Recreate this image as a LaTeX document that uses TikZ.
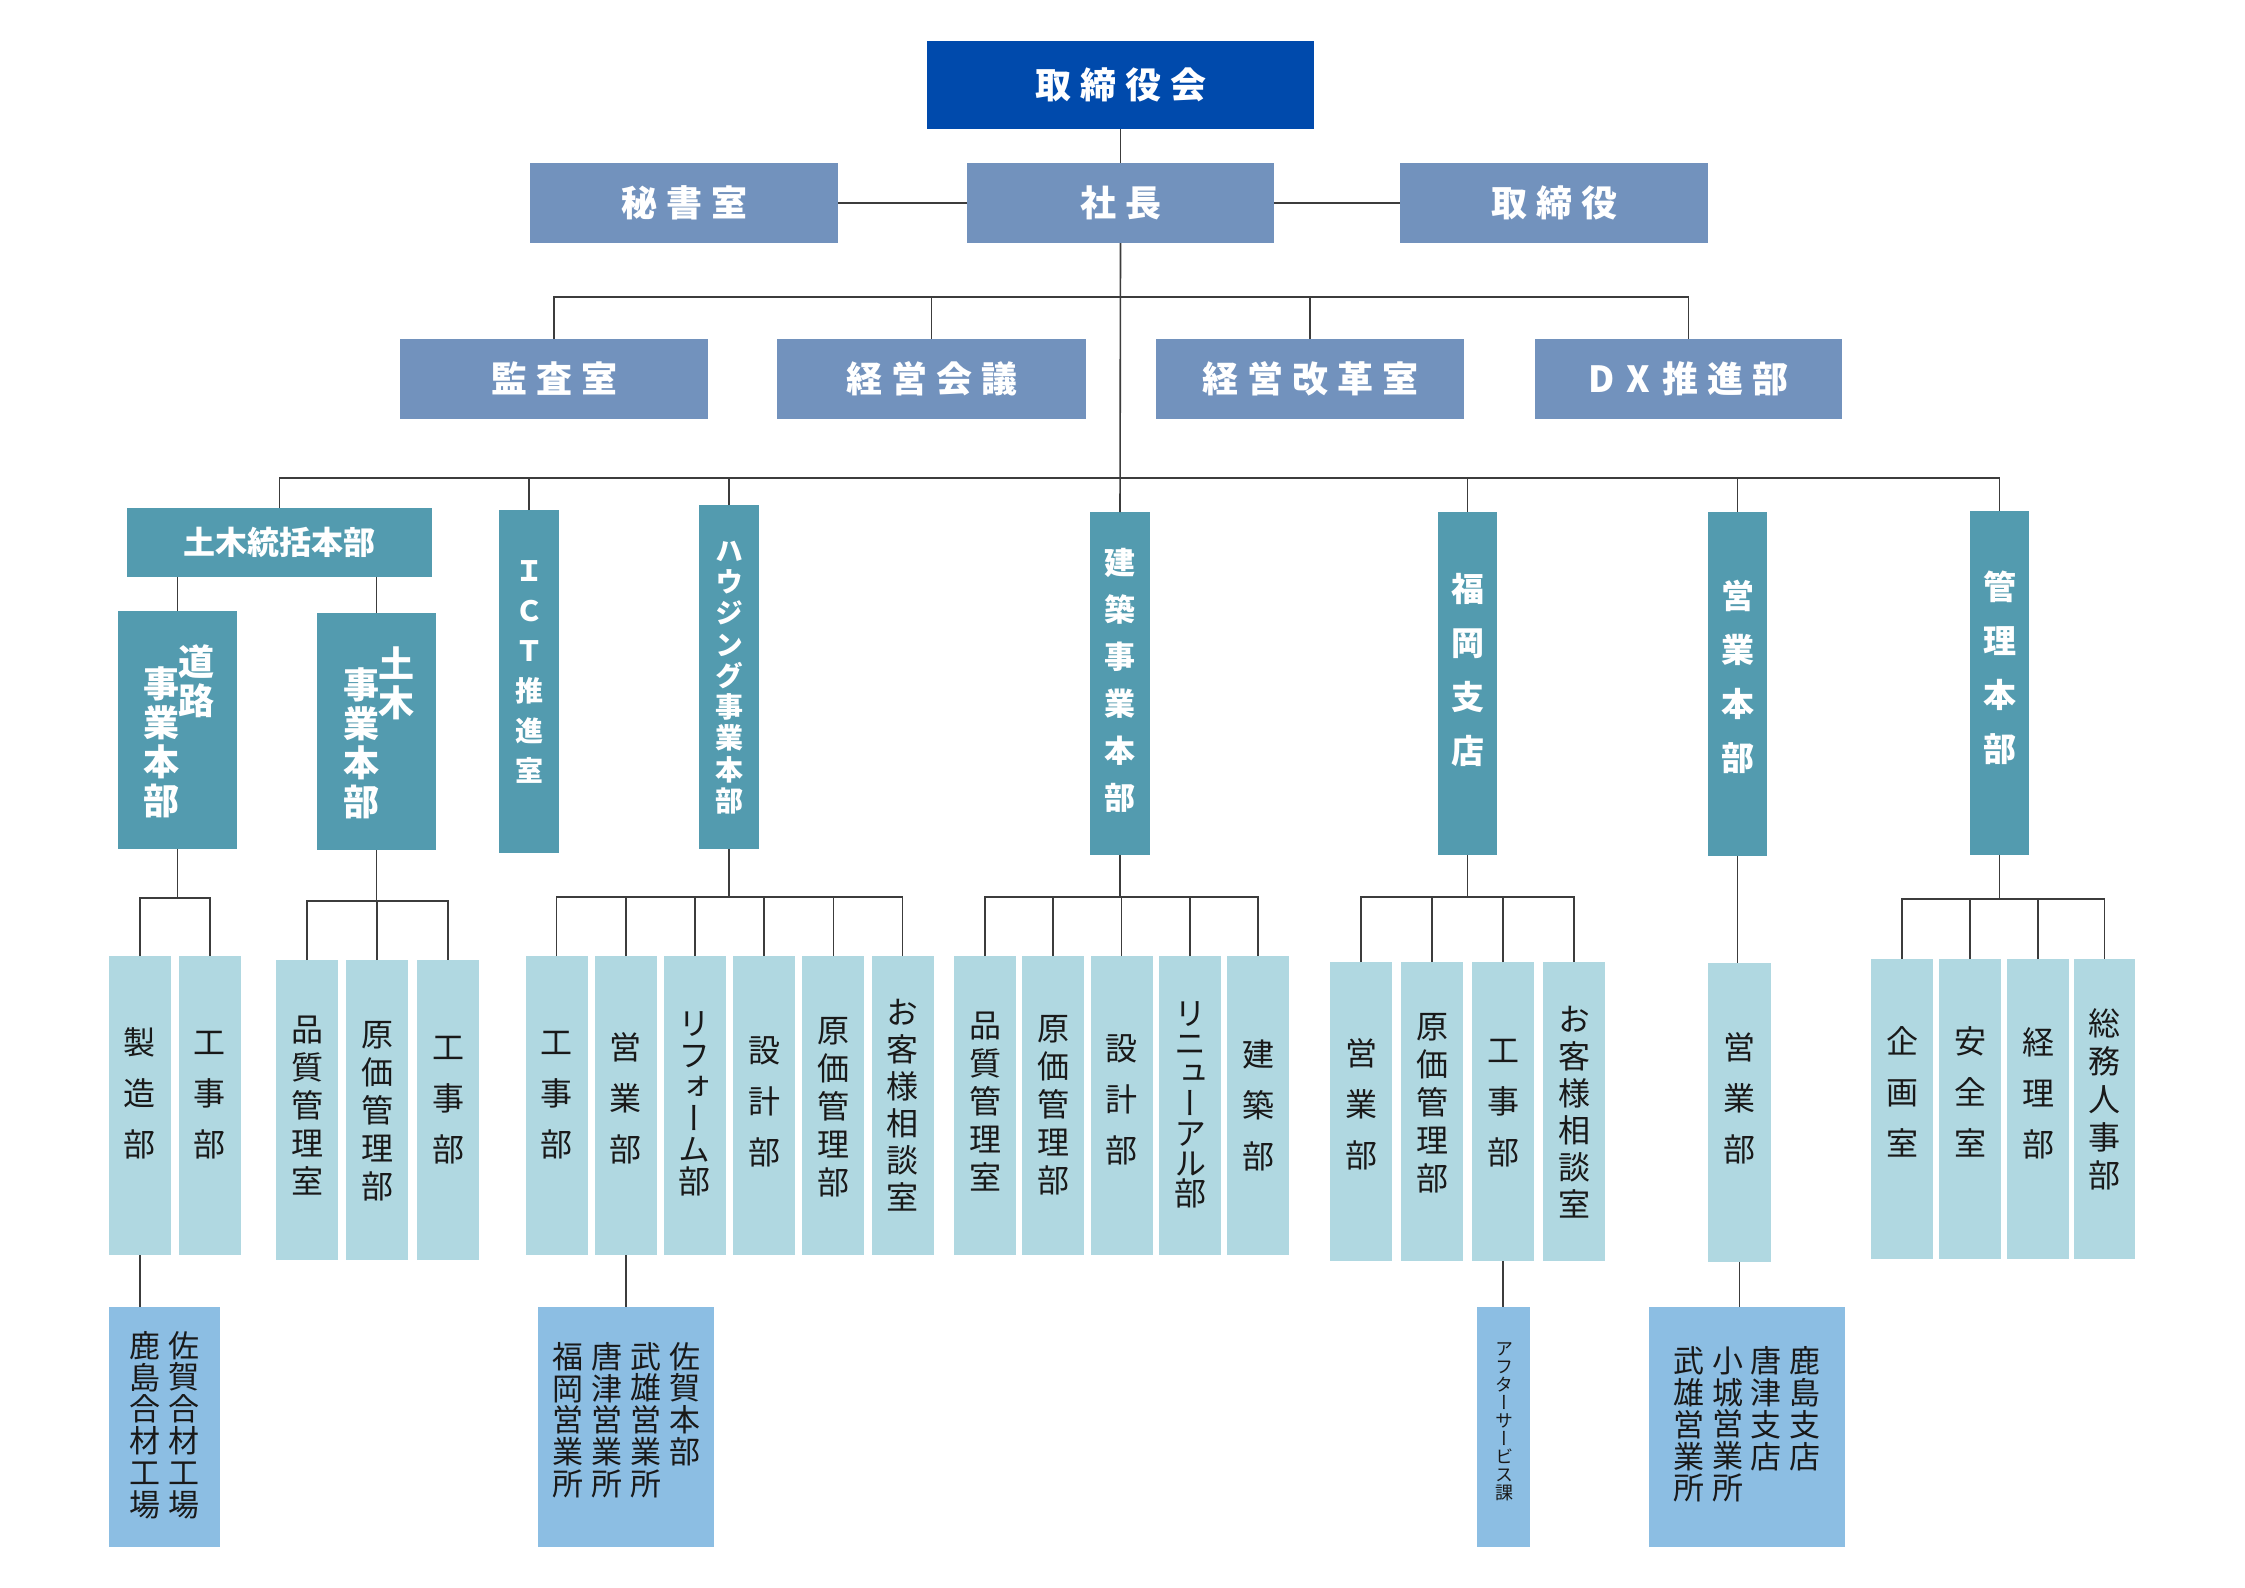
\documentclass[tikz,border=0pt]{standalone}
\usepackage{fontspec}
\setmainfont{Noto Sans CJK JP}
\newfontfamily\jpv[RawFeature=+vert]{Noto Sans CJK JP}
\newcommand\vfnt[2]{\jpv\fontsize{#1}{#2}\selectfont\lineskiplimit=-100pt\relax}
\definecolor{navy}{HTML}{004AAC}
\definecolor{slate}{HTML}{7292BD}
\definecolor{teal2}{HTML}{539BAF}
\definecolor{pale}{HTML}{B0D8E1}
\definecolor{sky}{HTML}{8CBEE3}
\definecolor{lin}{HTML}{3C3C3C}
\tikzset{
  bx/.style={inner sep=0pt,outer sep=0pt,draw=none},
  hd/.style={bx,fill=slate,minimum height=80pt,text=white,font=\bfseries\fontsize{36}{40}\selectfont},
  tl/.style={bx,fill=teal2,minimum height=343pt},
  pl/.style={bx,fill=pale,minimum width=62pt,minimum height=299pt},
  sk/.style={bx,fill=sky,minimum height=239.5pt},
  vw/.style={text=white,align=center,inner sep=0pt},
  vb/.style={text=black!90,align=center,inner sep=0pt},
  vthree/.style={vb,font=\vfnt{32}{51}},
  vfive/.style={vb,font=\vfnt{32}{38}},
  vsix/.style={vb,font=\vfnt{32}{37}},
  vsixr/.style={vb,font=\vfnt{32}{31.5}},
  vseven/.style={vb,font=\vfnt{32}{30}},
  vcol/.style={vb,anchor=north,font=\vfnt{31}{31.8}},
  conn/.style={draw=lin,line width=1.6pt}
}
\begin{document}
\begin{tikzpicture}[x=1pt,y=-1pt]
\fill[white] (0,0) rectangle (2245,1587);
\path[use as bounding box] (0,0) rectangle (2245,1587);

% level 0-2
\node[bx,fill=navy,minimum width=387pt,minimum height=88pt,text=white,font=\bfseries\fontsize{36}{40}\selectfont] (tb) at (1120.5,85) {取\kern9pt 締\kern9pt 役\kern9pt 会};
\node[hd,minimum width=308pt] (hisho) at (684,203) {秘\kern9pt 書\kern9pt 室};
\node[hd,minimum width=307pt] (sh) at (1120.5,203) {社\kern9pt 長};
\node[hd,minimum width=308pt] (tori) at (1554,203) {取\kern9pt 締\kern9pt 役};
\node[hd,minimum width=308pt] (kansa) at (554,379) {監\kern9pt 査\kern9pt 室};
\node[hd,minimum width=309pt] (keiei) at (931.5,379) {経\kern9pt 営\kern9pt 会\kern9pt 議};
\node[hd,minimum width=308pt] (kaikaku) at (1310,379) {経\kern9pt 営\kern9pt 改\kern9pt 革\kern9pt 室};
\node[hd,minimum width=307pt] (dx) at (1688.5,379) {D\kern12pt X\kern12pt 推\kern9pt 進\kern9pt 部};

% level 3
\node[bx,fill=teal2,minimum width=305pt,minimum height=69pt,text=white,font=\bfseries\fontsize{32}{36}\selectfont] (dtk) at (279.5,542.5) {土木統括本部};
\node[tl,minimum width=60pt] (ict) at (529,681.5) {};
\node[tl,minimum width=60pt,minimum height=344pt] (hsg) at (729,677) {};
\node[tl,minimum width=60pt] (knc) at (1120,683.5) {};
\node[tl,minimum width=59pt] (fko) at (1467.5,683.5) {};
\node[tl,minimum width=59pt,minimum height=344pt] (eig) at (1737.5,684) {};
\node[tl,minimum width=59pt,minimum height=344pt] (knr) at (1999.5,683) {};
\node[vw,font=\bfseries\vfnt{28}{40}] (ictt) at (529,671.7) {Ｉ\\Ｃ\\Ｔ\\推\\進\\室};
\node[vw,font=\bfseries\vfnt{28}{31.3}] (hsgt) at (729.5,677.5) {ハ\\ウ\\ジ\\ン\\グ\\事\\業\\本\\部};
\node[vw,font=\bfseries\vfnt{31}{47}] (knct) at (1120,680) {建\\築\\事\\業\\本\\部};
\node[vw,font=\bfseries\vfnt{33}{54}] (fkot) at (1468,669.5) {福\\岡\\支\\店};
\node[vw,font=\bfseries\vfnt{33}{54}] (eigt) at (1738,676.5) {営\\業\\本\\部};
\node[vw,font=\bfseries\vfnt{33}{54}] (knrt) at (2000,667.5) {管\\理\\本\\部};

% level 4
\node[bx,fill=teal2,minimum width=119pt,minimum height=238pt] (drj) at (177.5,730) {};
\node[bx,fill=teal2,minimum width=119pt,minimum height=237pt] (dbj) at (376.5,731.5) {};
\node[vw,font=\bfseries\vfnt{36}{39}] (drja) at (196.7,681) {道\\路};
\node[vw,font=\bfseries\vfnt{36}{39}] (drjb) at (161.7,742.5) {事\\業\\本\\部};
\node[vw,font=\bfseries\vfnt{36}{39}] (dbja) at (396.7,683) {土\\木};
\node[vw,font=\bfseries\vfnt{36}{39}] (dbjb) at (361.7,743) {事\\業\\本\\部};

% level 5 boxes
\node[pl] (s1) at (139.7,1105.5) {};
\node[pl] (s2) at (209.8,1105.5) {};
\node[pl,minimum height=299.5pt] (s3) at (307,1109.75) {};
\node[pl,minimum height=299.5pt] (s4) at (377.25,1109.75) {};
\node[pl,minimum height=299.5pt] (s5) at (448,1109.75) {};
\node[pl] (s6) at (556.5,1105.5) {};
\node[pl] (s7) at (625.7,1105.5) {};
\node[pl] (s8) at (694.9,1105.5) {};
\node[pl] (s9) at (764.1,1105.5) {};
\node[pl] (s10) at (833.3,1105.5) {};
\node[pl] (s11) at (902.5,1105.5) {};
\node[pl] (s12) at (985,1105.5) {};
\node[pl] (s13) at (1053,1105.5) {};
\node[pl] (s14) at (1121.5,1105.5) {};
\node[pl] (s15) at (1190,1105.5) {};
\node[pl] (s16) at (1258,1105.5) {};
\node[pl] (s17) at (1361,1111.5) {};
\node[pl] (s18) at (1432,1111.5) {};
\node[pl] (s19) at (1503,1111.5) {};
\node[pl] (s20) at (1574,1111.5) {};
\node[pl,minimum width=63pt] (s21) at (1739.5,1112.5) {};
\node[pl,minimum height=300pt] (s22) at (1902,1109) {};
\node[pl,minimum height=300pt] (s23) at (1970,1109) {};
\node[pl,minimum height=300pt] (s24) at (2038,1109) {};
\node[pl,minimum height=300pt,minimum width=61pt] (s25) at (2104.5,1109) {};

% level 5 texts
\node[vthree] (t1) at (139.7,1093) {製\\造\\部};
\node[vthree] (t2) at (209.8,1095) {工\\事\\部};
\node[vfive] (t3) at (307,1105.5) {品\\質\\管\\理\\室};
\node[vfive] (t4) at (377.25,1111.5) {原\\価\\管\\理\\部};
\node[vthree] (t5) at (448,1100) {工\\事\\部};
\node[vthree] (t6) at (556.5,1095) {工\\事\\部};
\node[vthree] (t7) at (625.7,1098) {営\\業\\部};
\node[vsixr] (t8) at (694.9,1104) {リ\\フ\\ォ\\ー\\ム\\部};
\node[vthree] (t9) at (764.1,1102) {設\\計\\部};
\node[vfive] (t10) at (833.3,1107) {原\\価\\管\\理\\部};
\node[vsix] (t11) at (902.5,1105) {お\\客\\様\\相\\談\\室};
\node[vfive] (t12) at (985,1101.5) {品\\質\\管\\理\\室};
\node[vfive] (t13) at (1053,1105) {原\\価\\管\\理\\部};
\node[vthree] (t14) at (1121.5,1100) {設\\計\\部};
\node[vseven] (t15) at (1190,1105) {リ\\ニ\\ュ\\ー\\ア\\ル\\部};
\node[vthree] (t16) at (1258,1105) {建\\築\\部};
\node[vthree] (t17) at (1361,1104.5) {営\\業\\部};
\node[vfive] (t18) at (1432,1103) {原\\価\\管\\理\\部};
\node[vthree] (t19) at (1503,1103) {工\\事\\部};
\node[vsix] (t20) at (1574,1112) {お\\客\\様\\相\\談\\室};
\node[vthree] (t21) at (1739.5,1098.5) {営\\業\\部};
\node[vthree] (t22) at (1902,1092) {企\\画\\室};
\node[vthree] (t23) at (1970,1092) {安\\全\\室};
\node[vthree] (t24) at (2038,1093) {経\\理\\部};
\node[vfive] (t25) at (2104.5,1099.5) {総\\務\\人\\事\\部};

% level 6
\node[sk,minimum width=111pt] (b1) at (164.1,1426.75) {};
\node[sk,minimum width=176.6pt] (b2) at (626.1,1426.75) {};
\node[sk,minimum width=53pt] (b3) at (1503.5,1426.75) {};
\node[sk,minimum width=196pt] (b4) at (1747,1426.75) {};
\node[vcol] (c1) at (184,1331) {佐\\賀\\合\\材\\工\\場};
\node[vcol] (c2) at (144.5,1331) {鹿\\島\\合\\材\\工\\場};
\node[vcol] (c3) at (685,1342) {佐\\賀\\本\\部};
\node[vcol] (c4) at (646,1342) {武\\雄\\営\\業\\所};
\node[vcol] (c5) at (607,1342) {唐\\津\\営\\業\\所};
\node[vcol] (c6) at (568,1342) {福\\岡\\営\\業\\所};
\node[vb,anchor=north,font=\vfnt{18}{18}] (c7) at (1504,1342) {ア\\フ\\タ\\ー\\サ\\ー\\ビ\\ス\\課};
\node[vcol] (c8) at (1805,1346.5) {鹿\\島\\支\\店};
\node[vcol] (c9) at (1766,1346.5) {唐\\津\\支\\店};
\node[vcol] (c10) at (1728,1346.5) {小\\城\\営\\業\\所};
\node[vcol] (c11) at (1689,1346.5) {武\\雄\\営\\業\\所};

% connectors top
\draw[conn] (tb.south) -- (sh.north);
\draw[conn] (hisho.east) -- (sh.west);
\draw[conn] (sh.east) -- (tori.west);
\draw[conn] (sh.south) -- (knc.north);
\coordinate (j2) at (1120.5,297);
\draw[conn] (kansa.north) |- (j2) -| (dx.north);
\draw[conn] (keiei.north) -- (keiei.north |- j2);
\draw[conn] (kaikaku.north) -- (kaikaku.north |- j2);
\coordinate (j3) at (1120.5,478);
\draw[conn] (dtk.north) |- (j3) -| (knr.north);
\draw[conn] (ict.north) -- (ict.north |- j3);
\draw[conn] (hsg.north) -- (hsg.north |- j3);
\draw[conn] (fko.north) -- (fko.north |- j3);
\draw[conn] (eig.north) -- (eig.north |- j3);
\draw[conn] (drj.north) -- (drj.north |- dtk.south);
\draw[conn] (dbj.north) -- (dbj.north |- dtk.south);

% level 5 branches
\coordinate (bg1) at (177.5,898);
\draw[conn] (drj.south) -- (bg1);
\draw[conn] (s1.north) |- (bg1) -| (s2.north);
\coordinate (bg2) at (376.5,901);
\draw[conn] (dbj.south) -- (bg2);
\draw[conn] (s3.north) |- (bg2) -| (s5.north);
\draw[conn] (s4.north) -- (s4.north |- bg2);
\coordinate (bg3) at (729,897);
\draw[conn] (hsg.south) -- (bg3);
\draw[conn] (s6.north) |- (bg3) -| (s11.north);
\foreach \n in {s7,s8,s9,s10} \draw[conn] (\n.north) -- (\n.north |- bg3);
\coordinate (bg4) at (1120,897);
\draw[conn] (knc.south) -- (bg4);
\draw[conn] (s12.north) |- (bg4) -| (s16.north);
\foreach \n in {s13,s14,s15} \draw[conn] (\n.north) -- (\n.north |- bg4);
\coordinate (bg5) at (1467.5,897);
\draw[conn] (fko.south) -- (bg5);
\draw[conn] (s17.north) |- (bg5) -| (s20.north);
\foreach \n in {s18,s19} \draw[conn] (\n.north) -- (\n.north |- bg5);
\draw[conn] (eig.south) -- (eig.south |- s21.north);
\coordinate (bg7) at (1999.5,899);
\draw[conn] (knr.south) -- (bg7);
\draw[conn] (s22.north) |- (bg7) -| (s25.north);
\foreach \n in {s23,s24} \draw[conn] (\n.north) -- (\n.north |- bg7);

% level 6 connectors
\draw[conn] (s1.south) -- (s1.south |- b1.north);
\draw[conn] (s7.south) -- (s7.south |- b2.north);
\draw[conn] (s19.south) -- (s19.south |- b3.north);
\draw[conn] (s21.south) -- (s21.south |- b4.north);
\end{tikzpicture}
\end{document}
